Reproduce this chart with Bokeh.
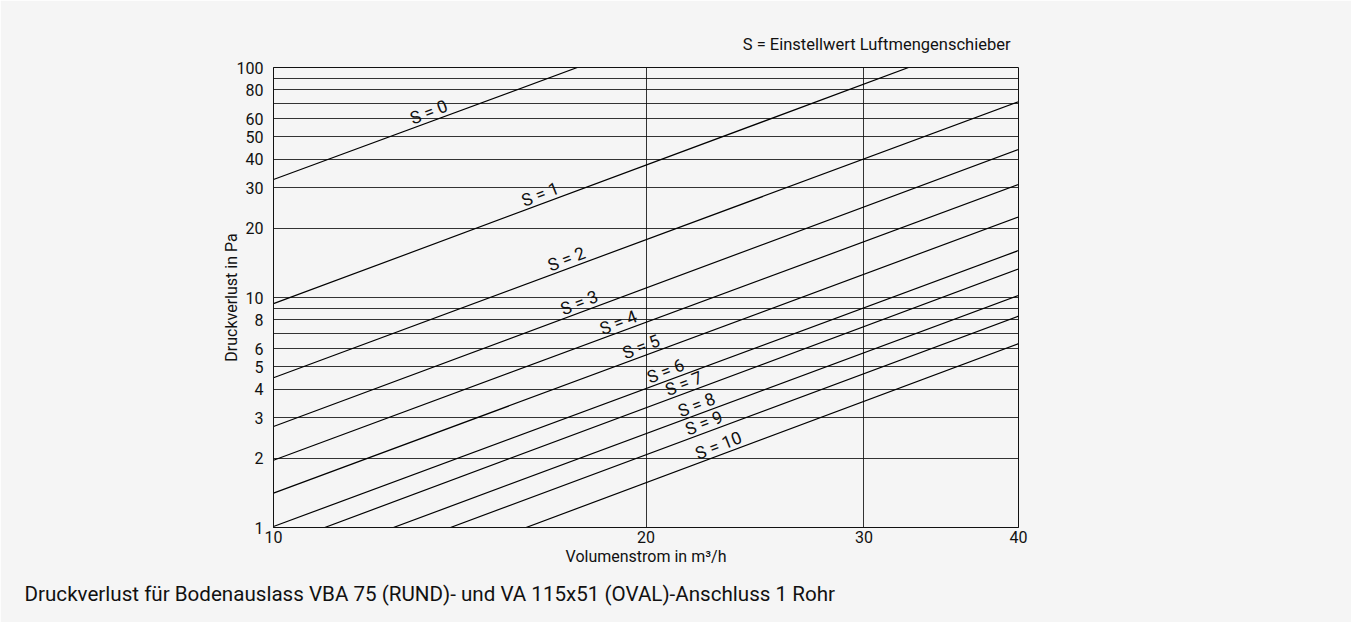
import math
from bokeh.plotting import figure
from bokeh.models import Range1d, FixedTicker, Title, ColumnDataSource
from bokeh.core.properties import value
from bokeh.embed import file_html
from bokeh.resources import INLINE

# ---- data ----
settings = ["0", "1", "2", "3", "4", "5", "6", "7", "8", "9", "10"]
flow_start = [10.0, 10.0, 10.0, 10.0, 10.0, 10.0, 10.0, 11.0, 12.5, 13.9, 16.0]
dp_start = [32.6, 9.4, 4.48, 2.75, 1.96, 1.41, 1.01, 1.0, 1.0, 1.0, 1.0]
flow_end = [17.6, 32.6, 40.0, 40.0, 40.0, 40.0, 40.0, 40.0, 40.0, 40.0, 40.0]
dp_end = [100.0, 100.0, 71.0, 44.0, 31.0, 22.4, 16.0, 13.3, 10.2, 8.3, 6.3]
label_flow = [13.0, 16.0, 16.8, 17.2, 18.5, 19.3, 20.2, 20.9, 21.4, 21.7, 22.1]

x_ticks = [10, 20, 30, 40]
x_tick_labels = ["10", "20", "30", "40"]
y_ticks = [1, 2, 3, 4, 5, 6, 7, 8, 9, 10, 20, 30, 40, 50, 60, 70, 80, 90, 100]
y_tick_labels = ["1", "2", "3", "4", "5", "6", "", "8", "", "10",
                 "20", "30", "40", "50", "60", "", "80", "", "100"]

title_text = "S = Einstellwert Luftmengenschieber"
x_label = "Volumenstrom in m\u00b3/h"
y_label = "Druckverlust in Pa"
caption = "Druckverlust f\u00fcr Bodenauslass VBA 75 (RUND)- und VA 115x51 (OVAL)-Anschluss 1 Rohr"

# ---- layout ----
FONT = "Roboto"
INK = "#111111"
BG = "#f5f5f5"
FW, FH = 745, 460
X0, X1, Y0, Y1 = 10, 40, 1, 100

p = figure(width=1351, height=622, x_axis_type="log", y_axis_type="log",
           x_range=Range1d(X0, X1), y_range=Range1d(Y0, Y1),
           output_backend="svg", toolbar_location=None,
           min_border_left=273, min_border_right=333,
           min_border_top=67, min_border_bottom=95,
           frame_width=FW, frame_height=FH)
p.background_fill_color = BG
p.border_fill_color = BG
p.outline_line_color = INK
p.outline_line_width = 1

for ax, ticks, labels in ((p.xaxis[0], x_ticks, x_tick_labels), (p.yaxis[0], y_ticks, y_tick_labels)):
    ax.ticker = FixedTicker(ticks=ticks, minor_ticks=[])
    ax.major_label_overrides = {t: l for t, l in zip(ticks, labels)}
    ax.major_tick_line_color = None
    ax.minor_tick_line_color = None
    ax.major_tick_out = 0
    ax.major_tick_in = 0
    ax.axis_line_color = INK
    ax.major_label_text_font = FONT
    ax.major_label_text_font_size = "16px"
    ax.major_label_text_color = INK
    ax.axis_label_text_font = FONT
    ax.axis_label_text_font_size = "16px"
    ax.axis_label_text_font_style = "normal"
    ax.axis_label_text_color = INK

p.xaxis.major_label_standoff = 3
p.yaxis.major_label_standoff = 10
p.xaxis.axis_label = x_label
p.xaxis.axis_label_standoff = 1
p.yaxis.axis_label = y_label
p.yaxis.axis_label_standoff = -7

for g in (p.xgrid[0], p.ygrid[0]):
    g.grid_line_color = INK
    g.grid_line_width = 1
    g.grid_line_alpha = 0.85

# curves
for i in range(len(settings)):
    p.line([flow_start[i], flow_end[i]], [dp_start[i], dp_end[i]],
           line_color="black", line_width=1.2)

# labels on curves
px_per_dec_x = FW / (math.log10(X1) - math.log10(X0))
px_per_dec_y = FH / (math.log10(Y1) - math.log10(Y0))
lab_y, lab_ang, lab_txt = [], [], []
for i in range(len(settings)):
    k = math.log10(dp_end[i] / dp_start[i]) / math.log10(flow_end[i] / flow_start[i])
    lab_y.append(dp_start[i] * (label_flow[i] / flow_start[i]) ** k)
    lab_ang.append(math.atan(k * px_per_dec_y / px_per_dec_x) + 0.02)
    lab_txt.append("S = " + settings[i])
src = ColumnDataSource(dict(x=label_flow, y=lab_y, angle=lab_ang, text=lab_txt))
p.text(x="x", y="y", text="text", angle="angle", source=src,
       text_font=value(FONT), text_font_size="17.5px", text_color=INK,
       text_align="left", text_baseline="bottom", y_offset=1)

# header (right aligned above the frame)
p.title.text = title_text
p.title.align = "right"
p.title.offset = 8
p.title.standoff = 27
p.title.text_font = FONT
p.title.text_font_size = "16.5px"
p.title.text_font_style = "normal"
p.title.text_color = INK

# caption below the chart
p.add_layout(Title(text=caption, align="left", offset=24 - 273, standoff=22,
                   text_font=FONT, text_font_size="20.6px",
                   text_font_style="normal", text_color=INK), "below")

open("out.html", "w").write(file_html(p, INLINE))
